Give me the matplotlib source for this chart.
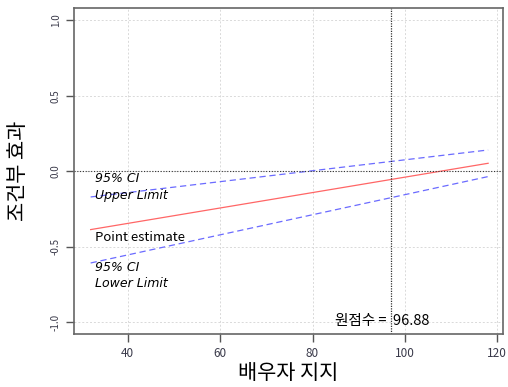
import matplotlib
matplotlib.use("Agg")
import matplotlib.pyplot as plt
import numpy as np

plt.rcParams['font.family'] = ['Noto Sans CJK KR', 'DejaVu Sans']

# 배우자 지지 범위와 조건부 효과 (선형이라 양 끝점만)
support = [32, 118]
point_est = [-0.386, 0.053]
ci_upper = [-0.170, 0.141]
ci_lower = [-0.607, -0.035]
origin_score = 96.88

x_ticks = [40, 60, 80, 100, 120]
y_ticks = [-1.0, -0.5, 0.0, 0.5, 1.0]

fig = plt.figure(figsize=(5.08, 3.87), dpi=100)
ax = fig.add_axes([0.1457, 0.137, 0.8443, 0.842])

ax.grid(True, color='#d9d9d9', linestyle=(0, (2, 2)), linewidth=0.7)
ax.set_axisbelow(True)

ax.plot(support, point_est, color='#ff6666', linewidth=0.9)
ax.plot(support, ci_upper, color='#6b6bff', linestyle=(0, (5, 3)), linewidth=0.9)
ax.plot(support, ci_lower, color='#6b6bff', linestyle=(0, (5, 3)), linewidth=0.9)

ax.axhline(0, color='#333333', linestyle=(0, (1, 1.5)), linewidth=0.8)
ax.axvline(origin_score, color='#333333', linestyle=(0, (1, 1)), linewidth=0.9)

it = dict(style='italic', family=['DejaVu Sans'], fontsize=9, va='center', ha='left')
ax.text(32.9, -0.05, '95% CI', **it)
ax.text(32.9, -0.16, 'Upper Limit', **it)
ax.text(32.9, -0.437, 'Point estimate', fontsize=9.5, va='center', ha='left')
ax.text(32.9, -0.636, '95% CI', **it)
ax.text(32.9, -0.742, 'Lower Limit', **it)
ax.text(95.0, -0.99, f'원점수 =  {origin_score:.2f}', fontsize=10.5, va='center', ha='center')

ax.set_xlim(28.4, 121.2)
ax.set_ylim(-1.077, 1.08)
ax.set_xticks(x_ticks)
ax.set_yticks(y_ticks)
ax.set_yticklabels([f'{v:.1f}' for v in y_ticks], rotation=90, va='center')
ax.tick_params(axis='x', labelsize=8.5, colors='#555555', labelcolor='#3a3a4a', length=6, width=1)
ax.tick_params(axis='y', labelsize=7, colors='#555555', labelcolor='#3a3a4a', length=6, width=1)
for s in ax.spines.values():
    s.set_color('#666666')
    s.set_linewidth(1.2)

ax.set_xlabel('배우자 지지', fontsize=15, labelpad=1)
ax.set_ylabel('조건부 효과', fontsize=15, va='center')
ax.yaxis.set_label_coords(-0.13, 0.5)

fig.savefig('out.png', dpi=100)
